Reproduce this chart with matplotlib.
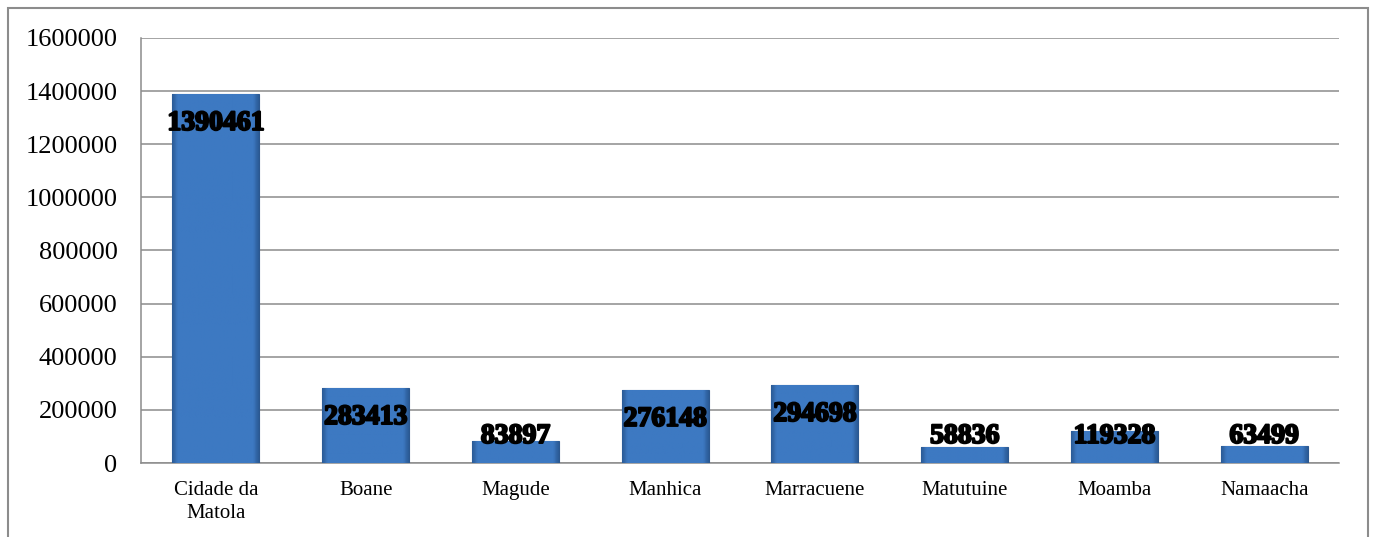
import numpy as np
import matplotlib
matplotlib.use('Agg')
from matplotlib import pyplot as plt
from matplotlib import patheffects
from matplotlib.patches import Rectangle

# Daten
distritos = ['Cidade da\nMatola', 'Boane', 'Magude', 'Manhica', 'Marracuene',
             'Matutuine', 'Moamba', 'Namaacha']
populacao = [1390461, 283413, 83897, 276148, 294698, 58836, 119328, 63499]
yticks = [0, 200000, 400000, 600000, 800000, 1000000, 1200000, 1400000, 1600000]

plt.rcParams['font.family'] = ['Liberation Serif', 'DejaVu Serif']

fig = plt.figure(figsize=(13.75, 5.37), dpi=100)
ax = fig.add_axes([141/1375, 74/537, 1198/1375, 425/537])

# Rahmen um die ganze Grafik
fig.patches.append(Rectangle((8/1375, -0.02), 1360/1375, 1.02 - 8/537,
                             transform=fig.transFigure, fill=False,
                             edgecolor='#8c8c8c', linewidth=1.5))

x = np.arange(len(distritos))
bars = ax.bar(x, populacao, width=0.58, color='#3b74bb', edgecolor='#2b5890',
              linewidth=0.8, zorder=3)

# leichter Farbverlauf fuer die Balken (Raender dunkler)
grad = np.linspace(0, 1, 64)
grad = np.clip(1.0 - np.abs(grad - 0.5) * 2.0, 0, 0.12) / 0.12
grad = np.vstack([grad] * 4)
cmap = matplotlib.colors.LinearSegmentedColormap.from_list(
    'balken', ['#2c5c98', '#3d79c2'])
for b in bars:
    x0, y0 = b.get_x(), b.get_y()
    im = ax.imshow(grad, extent=[x0, x0 + b.get_width(), y0, y0 + b.get_height()],
                   aspect='auto', cmap=cmap, zorder=3.5, origin='lower')
    im.set_clip_path(b)

ax.set_xlim(-0.5, len(distritos) - 0.5)
ax.set_ylim(0, 1600000)
ax.set_yticks(yticks)
ax.set_yticklabels([str(v) for v in yticks], fontsize=19)
ax.set_xticks(x)
ax.set_xticklabels(distritos, fontsize=15, linespacing=1.3)
ax.tick_params(axis='both', length=0)
ax.tick_params(axis='y', pad=17)
ax.tick_params(axis='x', pad=13)

ax.grid(axis='y', color='#8c8c8c', linewidth=1.1, zorder=0)
for s in ['top', 'right']:
    ax.spines[s].set_visible(False)
for s in ['left', 'bottom']:
    ax.spines[s].set_color('#8c8c8c')
    ax.spines[s].set_linewidth(1.1)

# Beschriftungen
for xi, v in zip(x, populacao):
    ypos = max(v - 112000, 100000)
    ax.text(xi, ypos, str(v), ha='center', va='center', fontsize=20,
            fontweight='bold', color='black', zorder=5,
            path_effects=[patheffects.withStroke(linewidth=1.5, foreground='black')])

fig.savefig('out.png', dpi=100)
